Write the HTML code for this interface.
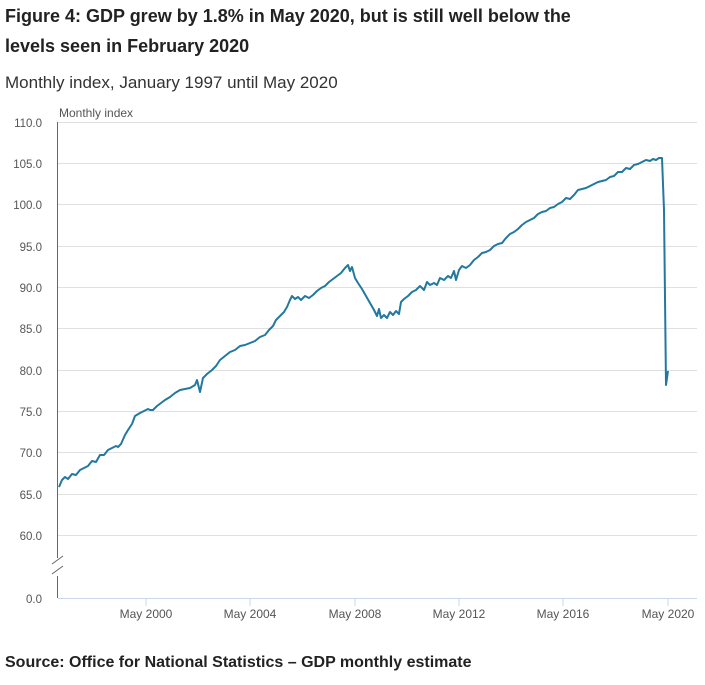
<!DOCTYPE html>
<html><head><meta charset="utf-8"><style>
body{margin:0;background:#fff;font-family:"Liberation Sans",sans-serif;color:#222;}
.t{position:absolute;left:5px;font-weight:bold;font-size:18px;}
</style></head><body>
<div class="t" style="top:6px">Figure 4: GDP grew by 1.8% in May 2020, but is still well below the</div>
<div class="t" style="top:36px">levels seen in February 2020</div>
<div style="position:absolute;left:5px;top:73px;font-size:17px;color:#333">Monthly index, January 1997 until May 2020</div>
<div style="position:absolute;left:5px;top:654px;font-size:16px;font-weight:bold">Source: Office for National Statistics – GDP monthly estimate</div>
<svg width="705" height="685" style="position:absolute;left:0;top:0" font-family="Liberation Sans, sans-serif" font-size="11.5" fill="#555">
<g stroke="#e0e0e0" stroke-width="1">
<line x1="58" x2="697" y1="122.5" y2="122.5"/><line x1="58" x2="697" y1="163.5" y2="163.5"/>
<line x1="58" x2="697" y1="204.5" y2="204.5"/><line x1="58" x2="697" y1="246.5" y2="246.5"/>
<line x1="58" x2="697" y1="287.5" y2="287.5"/><line x1="58" x2="697" y1="328.5" y2="328.5"/>
<line x1="58" x2="697" y1="370.5" y2="370.5"/><line x1="58" x2="697" y1="411.5" y2="411.5"/>
<line x1="58" x2="697" y1="452.5" y2="452.5"/><line x1="58" x2="697" y1="494.5" y2="494.5"/>
<line x1="58" x2="697" y1="535.5" y2="535.5"/>
</g>
<line x1="58" x2="697" y1="598.5" y2="598.5" stroke="#ccd6eb"/>
<g stroke="#ccd6eb"><line x1="146" x2="146" y1="598" y2="606"/><line x1="250" x2="250" y1="598" y2="606"/><line x1="355" x2="355" y1="598" y2="606"/><line x1="459" x2="459" y1="598" y2="606"/><line x1="563" x2="563" y1="598" y2="606"/><line x1="668" x2="668" y1="598" y2="606"/></g>
<line x1="57.5" x2="57.5" y1="122" y2="598" stroke="#666"/>
<rect x="50" y="558" width="15" height="18" fill="#fff"/>
<g stroke="#666"><line x1="52" y1="564" x2="63" y2="556"/><line x1="52" y1="574" x2="63" y2="566"/></g>
<text x="59" y="117" font-size="12">Monthly index</text>
<g text-anchor="end">
<text x="42" y="127">110.0</text><text x="42" y="168">105.0</text><text x="42" y="209">100.0</text>
<text x="42" y="251">95.0</text><text x="42" y="292">90.0</text><text x="42" y="333">85.0</text>
<text x="42" y="375">80.0</text><text x="42" y="416">75.0</text><text x="42" y="457">70.0</text>
<text x="42" y="499">65.0</text><text x="42" y="540">60.0</text><text x="42" y="603">0.0</text>
</g>
<g text-anchor="middle" font-size="12">
<text x="146" y="618">May 2000</text><text x="250" y="618">May 2004</text><text x="355" y="618">May 2008</text>
<text x="459" y="618">May 2012</text><text x="563" y="618">May 2016</text><text x="668" y="618">May 2020</text>
</g>
<polyline fill="none" stroke="#2378a0" stroke-width="2" stroke-linejoin="round" points="59,487 62,480 65,477 68,479 72,474 76,475 80,470 84,468 88,466 92,461 96,462 100,455 104,455 108,450 112,448 116,446 118,447 121,444 125,435 128,430 132,424 135,416 140,413 144,411 148,409 150,410 153,410 157,406 161,403 165,400 170,397 175,393 180,390 185,389 190,388 195,385 197,380 200,392 203,378 207,374 212,370 216,366 220,360 225,356 230,352 235,350 240,346 245,345 250,343 255,341 260,337 265,335 269,330 273,326 276,320 280,316 284,312 287,307 290,300 292,296 295,299 298,297 301,300 305,296 309,298 313,295 317,291 321,288 325,286 329,282 333,279 337,276 341,273 345,268 348,265 350,271 352,267 355,278 358,283 362,289 366,296 370,303 374,310 377,316 379,309 381,318 384,315 387,318 390,312 393,315 396,311 399,314 401,302 404,299 408,296 412,292 416,290 420,286 424,290 427,282 430,285 434,283 437,285 440,278 444,280 448,276 451,278 454,271 456,280 459,270 462,266 466,268 470,265 474,260 478,257 482,253 486,252 490,250 494,246 498,244 502,243 506,238 510,234 514,232 518,229 522,225 526,222 530,220 534,218 538,214 542,212 546,211 550,208 554,207 558,204 562,202 566,198 570,199 574,195 578,190 582,189 586,188 590,186 594,184 598,182 602,181 606,180 610,177 614,176 618,172 622,172 626,168 630,169 634,165 638,164 642,162 646,160 650,161 653,159 656,160 659,158 662,158 664,210 666,385 668,371"/>
</svg>
</body></html>
